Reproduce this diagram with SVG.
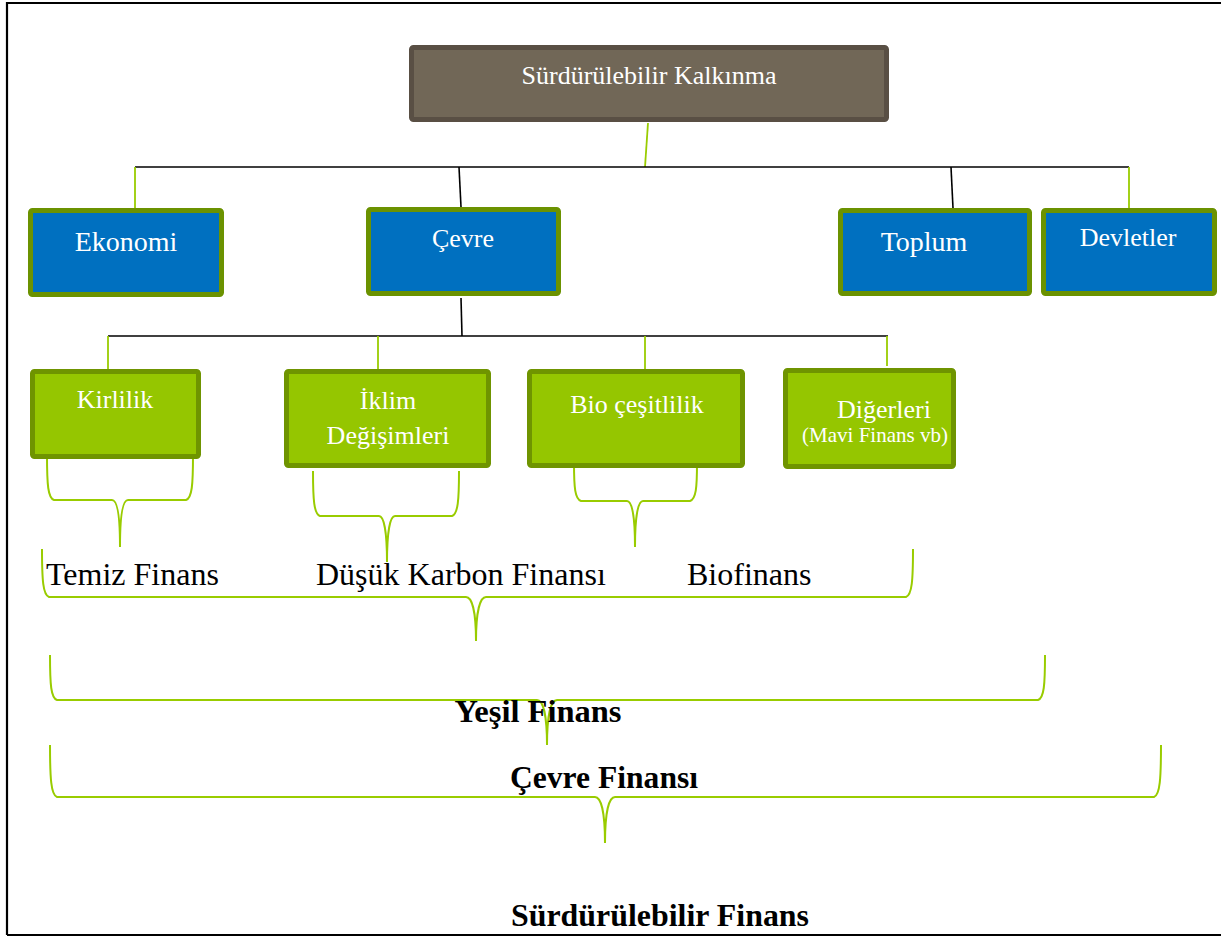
<svg xmlns="http://www.w3.org/2000/svg" width="1221" height="938" viewBox="0 0 1221 938">
<style>
text{font-family:"Liberation Serif","Times New Roman",serif;}
.wt{fill:#ffffff;text-anchor:middle;}
.bt{fill:#000000;}
.bold{font-weight:bold;fill:#000000;text-anchor:middle;}
.top{fill:#716757;stroke:#594f44;stroke-width:5;}
.blue{fill:#0070c0;stroke:#6b9200;stroke-width:5;}
.green{fill:#95c600;stroke:#6f9400;stroke-width:5;}
.k{stroke:#000000;stroke-width:1.6;fill:none;}
.g{stroke:#99cc00;stroke-width:1.8;fill:none;}
.br{stroke:#99cc00;stroke-width:2;fill:none;}
</style>
<rect x="0" y="0" width="1221" height="938" fill="#ffffff"/>
<g id="frame">
<path d="M7,935 L7,3 L1221,3" stroke="#000" stroke-width="2.2" fill="none"/>
<path d="M7,935 L1221,935" stroke="#000" stroke-width="2.2" fill="none"/>
</g>
<g id="connectors">
<line class="g" x1="648" y1="123" x2="645" y2="167"/>
<line class="k" x1="135" y1="167" x2="1129" y2="167"/>
<line class="g" x1="135" y1="167" x2="135" y2="208"/>
<line class="k" x1="459" y1="167" x2="461" y2="207"/>
<line class="k" x1="951" y1="167" x2="953" y2="208"/>
<line class="g" x1="1129" y1="167" x2="1129" y2="208"/>
<line class="k" x1="461" y1="298" x2="462" y2="336"/>
<line class="k" x1="108" y1="336" x2="888" y2="336"/>
<line class="g" x1="108" y1="336" x2="108" y2="369"/>
<line class="g" x1="378" y1="336" x2="378" y2="369"/>
<line class="g" x1="645" y1="336" x2="645" y2="370"/>
<line class="g" x1="887" y1="336" x2="887" y2="366"/>
</g>
<g id="braces">
<path class="br" d="M47,455 C47,485 48,498 54,500 L112,500 C117,500 120,515 120,547 M120,547 C120,515 123,500 128,500 L186,500 C192,498 193,485 193,455"/>
<path class="br" d="M313,471 C313,500 314,514 320,516 L379,516 C384,516 387,532 387,562 M387,562 C387,532 390,516 395,516 L452,516 C458,514 459,500 459,471"/>
<path class="br" d="M574,463 C574,488 575,499 581,501 L627,501 C632,501 635,516 635,547 M635,547 C635,516 638,501 643,501 L690,501 C696,499 697,488 697,463"/>
<path class="br" d="M42,549 C42,580 43,595 49,597 L466,597 C472,597 476,612 476,641 M476,641 C476,612 480,597 486,597 L906,597 C912,595 913,580 913,549"/>
<path class="br" d="M50,655 C50,685 51,698 57,700 L537,700 C543,700 547,715 547,745 M547,745 C547,715 551,700 557,700 L1038,700 C1044,698 1045,685 1045,655"/>
<path class="br" d="M50,745 C50,778 51,795 57,797 L595,797 C601,797 605,812 605,843 M605,843 C605,812 609,797 615,797 L1154,797 C1160,795 1161,778 1161,745"/>
</g>
<g id="node-surdurulebilir-kalkinma">
<rect class="top" x="411.5" y="47.5" width="475" height="72" rx="2"/>
<text class="wt" x="649" y="84" font-size="26">Sürdürülebilir Kalkınma</text>
</g>
<g id="node-ekonomi">
<rect class="blue" x="30.5" y="210.5" width="191" height="84" rx="2"/>
<text class="wt" x="126" y="251" font-size="28">Ekonomi</text>
</g>
<g id="node-cevre">
<rect class="blue" x="368.5" y="209.5" width="190" height="84" rx="2"/>
<text class="wt" x="463" y="247" font-size="26">Çevre</text>
</g>
<g id="node-toplum">
<rect class="blue" x="840.5" y="210.5" width="189" height="83" rx="2"/>
<text class="wt" x="924" y="251" font-size="28">Toplum</text>
</g>
<g id="node-devletler">
<rect class="blue" x="1043.5" y="210.5" width="171" height="83" rx="2"/>
<text class="wt" x="1128" y="246" font-size="26">Devletler</text>
</g>
<g id="node-kirlilik">
<rect class="green" x="32.5" y="371.5" width="166" height="85" rx="2"/>
<text class="wt" x="115" y="408" font-size="26">Kirlilik</text>
</g>
<g id="node-iklim">
<rect class="green" x="286.5" y="371.5" width="202" height="94" rx="2"/>
<text class="wt" x="388" y="409" font-size="26">İklim</text>
<text class="wt" x="388" y="444" font-size="26">Değişimleri</text>
</g>
<g id="node-bio">
<rect class="green" x="529.5" y="371.5" width="213" height="94" rx="2"/>
<text class="wt" x="637" y="413" font-size="26">Bio çeşitlilik</text>
</g>
<g id="node-digerleri">
<rect class="green" x="785.5" y="370.5" width="168" height="96" rx="2"/>
<text class="wt" x="884" y="418" font-size="26">Diğerleri</text>
<text class="wt" x="875" y="442" font-size="21">(Mavi Finans vb)</text>
</g>
<g id="labels">
<text class="bt" x="46" y="585" font-size="32">Temiz Finans</text>
<text class="bt" x="316" y="585" font-size="32">Düşük Karbon Finansı</text>
<text class="bt" x="687" y="585" font-size="32">Biofinans</text>
<text class="bold" x="538" y="722" font-size="32" textLength="167" lengthAdjust="spacingAndGlyphs">Yeşil Finans</text>
<text class="bold" x="604" y="788" font-size="32" textLength="188" lengthAdjust="spacingAndGlyphs">Çevre Finansı</text>
<text class="bold" x="660" y="926" font-size="32" textLength="298" lengthAdjust="spacingAndGlyphs">Sürdürülebilir Finans</text>
</g>
</svg>
